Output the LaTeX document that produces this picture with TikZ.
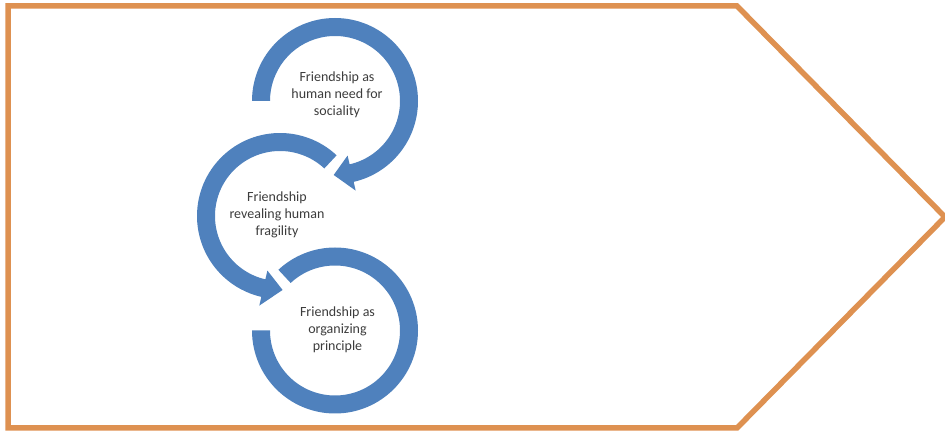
\documentclass[tikz,border=0pt]{standalone}
\usepackage{fontspec}
\setmainfont{Carlito}
\definecolor{borderorange}{RGB}{222,145,81}
\definecolor{ringblue}{RGB}{79,129,189}
\definecolor{txtgray}{RGB}{60,60,60}
\begin{document}
\begin{tikzpicture}[x=1pt,y=1pt,
  ringfill/.style={fill=ringblue},
  ringtext/.style={align=center, text=txtgray, font=\fontsize{14}{17}\selectfont, inner sep=0pt}]
\useasboundingbox (0,0) rectangle (945,431);
\draw[borderorange, line width=5.5pt, line join=miter]
  (8,425) -- (737,425) -- (945,214) -- (737,3) -- (8,3) -- cycle;
\coordinate (ctop) at (335,330);
\coordinate (cmid) at (280,215);
\coordinate (cbot) at (335,100.5);
% top ring
\fill[ringfill] ([shift={(ctop)}]180:83) arc[start angle=180,end angle=-77,radius=83]
  -- ([shift={(ctop)}]-77:92) -- ([shift={(ctop)}]-91:74) -- ([shift={(ctop)}]-77:56)
  -- ([shift={(ctop)}]-77:65) arc[start angle=-77,end angle=180,radius=65] -- cycle;
% middle ring
\fill[ringfill] ([shift={(cmid)}]47:83) arc[start angle=47,end angle=257,radius=83]
  -- ([shift={(cmid)}]257:92) -- ([shift={(cmid)}]272:74) -- ([shift={(cmid)}]257:56)
  -- ([shift={(cmid)}]257:65) arc[start angle=257,end angle=47,radius=65] -- cycle;
% bottom ring
\fill[ringfill] ([shift={(cbot)}]180:83) arc[start angle=180,end angle=493,radius=83]
  -- ([shift={(cbot)}]133:65) arc[start angle=493,end angle=180,radius=65] -- cycle;
\node[ringtext] (ttop) at (337,336) {Friendship as\\human need for\\sociality};
\node[ringtext] (tmid) at (277,216) {Friendship\\revealing human\\fragility};
\node[ringtext] (tbot) at (337.5,101) {Friendship as\\organizing\\principle};
\end{tikzpicture}
\end{document}
